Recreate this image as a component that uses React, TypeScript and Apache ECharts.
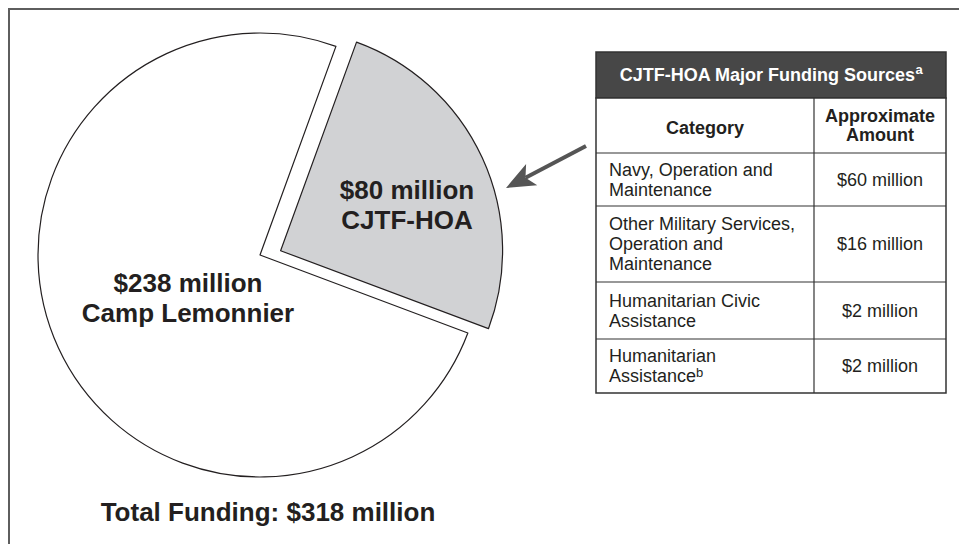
import React, { useEffect, useRef } from "react";
import * as echarts from "echarts";

// ---- data ----
const pieNames = ["CJTF-HOA", "Camp Lemonnier"];
const pieValues = [80, 238];
const pieColors = ["#d1d2d4", "#ffffff"];

const tableTitle = "CJTF-HOA Major Funding Sources";
const tableTitleNote = "a";
const tableHeaders = ["Category", "Approximate\nAmount"];
const tableCategories = [
  "Navy, Operation and\nMaintenance",
  "Other Military Services,\nOperation and\nMaintenance",
  "Humanitarian Civic\nAssistance",
  "Humanitarian\nAssistance",
];
const tableNotes = ["", "", "", "b"];
const tableAmounts = [60, 16, 2, 2];

const FONT = "'Liberation Sans', Arial, Helvetica, sans-serif";
const INK = "#231f20";

export default function App() {
  const ref = useRef<HTMLDivElement>(null);

  useEffect(() => {
    if (!ref.current) return;
    const chart = echarts.init(ref.current, undefined, { renderer: "svg" });

    const total = pieValues.reduce((a, b) => a + b, 0);
    const startAngle = 70;

    const labelStyle = {
      show: true,
      position: "inside",
      formatter: (p: any) => `$${p.value} million\n${p.name}`,
      color: INK,
      fontFamily: FONT,
      fontWeight: "bold",
      fontSize: 26,
      lineHeight: 30,
      align: "center",
    };

    const makeSeries = (visibleIdx: number, center: number[], labelPos: number[]) => ({
      type: "pie",
      center,
      radius: 222,
      startAngle,
      clockwise: true,
      silent: true,
      avoidLabelOverlap: false,
      labelLine: { show: false },
      label: labelStyle,
      labelLayout: { x: labelPos[0], y: labelPos[1] },
      emphasis: { disabled: true },
      data: pieNames.map((name, i) => ({
        name,
        value: pieValues[i],
        itemStyle:
          i === visibleIdx
            ? { color: pieColors[i], borderColor: INK, borderWidth: 1.2 }
            : { color: "rgba(0,0,0,0)", borderWidth: 0 },
        label: i === visibleIdx ? {} : { show: false },
      })),
    });

    // ---- table graphics ----
    const TX = 596,
      TR = 946,
      COL = 814;
    const rowYs = [52, 98, 153, 206, 282, 339, 393];
    const TW = TR - TX;
    const c1x = 609;
    const c1center = (TX + COL) / 2;
    const c2center = (COL + TR) / 2;
    const els: any[] = [];

    // frame (top and left)
    els.push({
      type: "line",
      shape: { x1: 8, y1: 9, x2: 959, y2: 9 },
      style: { stroke: "#5e5e5e", lineWidth: 2 },
    });
    els.push({
      type: "line",
      shape: { x1: 9, y1: 8, x2: 9, y2: 544 },
      style: { stroke: "#5e5e5e", lineWidth: 2 },
    });

    els.push({
      type: "rect",
      shape: { x: TX, y: rowYs[0], width: TW, height: rowYs[1] - rowYs[0] },
      style: { fill: "#474747", stroke: "#333", lineWidth: 1.5 },
    });
    els.push({
      type: "rect",
      shape: { x: TX, y: rowYs[1], width: TW, height: rowYs[6] - rowYs[1] },
      style: { fill: "#fff", stroke: "#333", lineWidth: 1.5 },
    });
    for (let i = 2; i < rowYs.length - 1; i++) {
      els.push({
        type: "line",
        shape: { x1: TX, y1: rowYs[i], x2: TR, y2: rowYs[i] },
        style: { stroke: "#333", lineWidth: 1.2 },
      });
    }
    els.push({
      type: "line",
      shape: { x1: COL, y1: rowYs[1], x2: COL, y2: rowYs[6] },
      style: { stroke: "#333", lineWidth: 1.2 },
    });

    els.push({
      type: "text",
      style: {
        text: `{t|${tableTitle}}{sup|${tableTitleNote}}`,
        x: (TX + TR) / 2,
        y: (rowYs[0] + rowYs[1]) / 2,
        align: "center",
        verticalAlign: "middle",
        rich: {
          t: { fill: "#fff", color: "#fff", fontFamily: FONT, fontWeight: "bold", fontSize: 18, lineHeight: 24 },
          sup: { fill: "#fff", color: "#fff", fontFamily: FONT, fontWeight: "bold", fontSize: 13, lineHeight: 13, verticalAlign: "top" },
        },
      },
    });

    const hy = (rowYs[1] + rowYs[2]) / 2;
    els.push({
      type: "text",
      style: {
        text: tableHeaders[0],
        x: c1center,
        y: hy + 2,
        align: "center",
        verticalAlign: "middle",
        fill: INK,
        fontFamily: FONT,
        fontWeight: "bold",
        fontSize: 18,
        lineHeight: 20,
      },
    });
    els.push({
      type: "text",
      style: {
        text: tableHeaders[1],
        x: c2center,
        y: hy,
        align: "center",
        verticalAlign: "middle",
        fill: INK,
        fontFamily: FONT,
        fontWeight: "bold",
        fontSize: 18,
        lineHeight: 19,
      },
    });

    tableCategories.forEach((cat, i) => {
      const yMid = (rowYs[i + 2] + rowYs[i + 3]) / 2;
      const lines = cat.split("\n");
      const rt = lines
        .map((l, k) => (k === lines.length - 1 && tableNotes[i] ? `{t|${l}}{sup|${tableNotes[i]}}` : `{t|${l}}`))
        .join("\n");
      els.push({
        type: "text",
        style: {
          text: rt,
          x: c1x,
          y: yMid,
          align: "left",
          verticalAlign: "middle",
          rich: {
            t: { fill: INK, color: INK, fontFamily: FONT, fontSize: 18, lineHeight: 20 },
            sup: { fill: INK, color: INK, fontFamily: FONT, fontSize: 13, lineHeight: 13, verticalAlign: "top" },
          },
        },
      });
      els.push({
        type: "text",
        style: {
          text: `$${tableAmounts[i]} million`,
          x: c2center,
          y: yMid,
          align: "center",
          verticalAlign: "middle",
          fill: INK,
          fontFamily: FONT,
          fontSize: 18,
        },
      });
    });

    // arrow
    const tip = [506, 188];
    const start = [586, 146];
    const dx = start[0] - tip[0],
      dy = start[1] - tip[1];
    const len = Math.hypot(dx, dy);
    const ux = dx / len,
      uy = dy / len;
    const px = -uy,
      py = ux;
    const hl = 29,
      hw = 12,
      notch = 22;
    const b1 = [tip[0] + ux * hl + px * hw, tip[1] + uy * hl + py * hw];
    const b2 = [tip[0] + ux * hl - px * hw, tip[1] + uy * hl - py * hw];
    const nt = [tip[0] + ux * notch, tip[1] + uy * notch];
    els.push({
      type: "line",
      shape: { x1: start[0], y1: start[1], x2: nt[0], y2: nt[1] },
      style: { stroke: "#555", lineWidth: 4 },
    });
    els.push({
      type: "polygon",
      shape: { points: [tip, b1, nt, b2] },
      style: { fill: "#555" },
    });

    // total
    els.push({
      type: "text",
      style: {
        text: `Total Funding: $${total} million`,
        x: 268,
        y: 512,
        align: "center",
        verticalAlign: "middle",
        fill: INK,
        fontFamily: FONT,
        fontWeight: "bold",
        fontSize: 26,
      },
    });

    chart.setOption({
      animation: false,
      backgroundColor: "#ffffff",
      series: [
        makeSeries(1, [260, 255], [188, 298]),
        makeSeries(0, [280.6, 250.7], [407, 205]),
      ],
      graphic: { elements: els },
    });

    return () => chart.dispose();
  }, []);

  return (
    <div
      ref={ref}
      style={{ position: "absolute", left: 0, top: 0, width: 959, height: 544 }}
    />
  );
}
